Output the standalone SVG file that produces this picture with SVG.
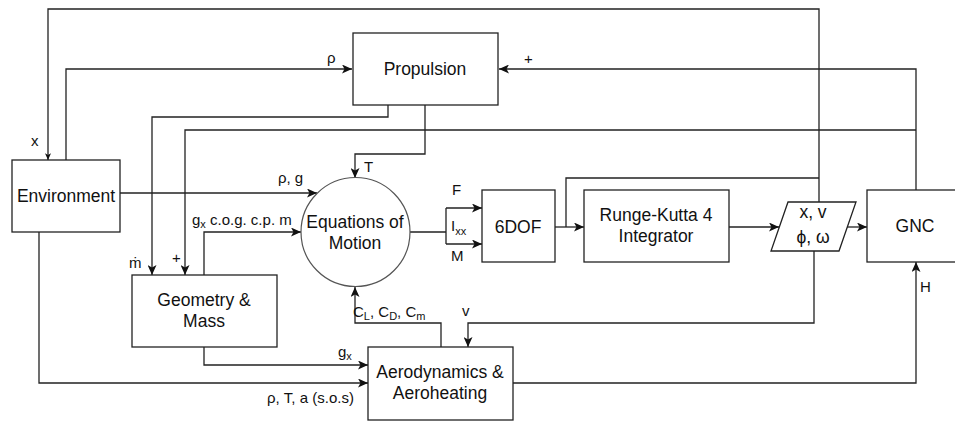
<svg xmlns="http://www.w3.org/2000/svg" width="955" height="421" viewBox="0 0 955 421">
<defs>
<marker id="arr" viewBox="0 0 10 9" refX="10" refY="4.5" markerWidth="10" markerHeight="9" markerUnits="userSpaceOnUse" orient="auto">
<path d="M0,0 L10,4.5 L0,9 L2.5,4.5 z" fill="#111"/>
</marker>
<marker id="arrs" viewBox="0 0 10 9" refX="10" refY="4.5" markerWidth="7" markerHeight="6" markerUnits="userSpaceOnUse" orient="auto">
<path d="M0,0 L10,4.5 L0,9 L2.5,4.5 z" fill="#111"/>
</marker>
</defs>
<style>
.box{fill:#fff;stroke:#222;stroke-width:1.3}
.circ{fill:#fff;stroke:#555;stroke-width:1.2}
.ln{fill:none;stroke:#222;stroke-width:1.3}
.a{marker-end:url(#arr)}
.t{font-family:"Liberation Sans",Arial,Helvetica,sans-serif;font-size:17.5px;fill:#111;text-anchor:middle}
.l{font-family:"Liberation Sans",Arial,Helvetica,sans-serif;font-size:15px;fill:#111}
.sub{font-size:11px}
</style>
<rect width="955" height="421" fill="#fff"/>
<g id="connectors">
<path class="ln" d="M819,202 V9 H48 V160" marker-end="url(#arrs)"/>
<path class="ln" d="M566,227 V178 H819"/>
<path class="ln a" d="M66,160 V69 H352"/>
<path class="ln a" d="M916,190 V69 H499"/>
<path class="ln a" d="M916,130 H185 V275"/>
<path class="ln a" d="M388,105 V117 H152 V275"/>
<path class="ln a" d="M425,105 V154 H355 V178"/>
<path class="ln a" d="M120,193 H317"/>
<path class="ln a" d="M204,275 V232 H301"/>
<path class="ln a" d="M204,347 V365 H368"/>
<path class="ln a" d="M39,232 V383 H368"/>
<path class="ln a" d="M441,347 V323 H355 V287"/>
<path class="ln a" d="M814,251 V323 H468 V347"/>
<path class="ln a" d="M513,383 H916 V262"/>
<path class="ln" d="M410,232 H446 M446,208 V244"/>
<path class="ln a" d="M446,208 H482"/>
<path class="ln a" d="M446,244 H482"/>
<path class="ln a" d="M555,227 H584"/>
<path class="ln a" d="M729,227 H779"/>
<path class="ln a" d="M847,227 H867"/>
<text class="l" x="31" y="146">x</text>
<text class="l" x="327" y="63">ρ</text>
<text class="l" x="524" y="64">+</text>
<text class="l" x="278" y="183">ρ, g</text>
<text class="l" x="364" y="172">T</text>
<text class="l" x="452" y="195">F</text>
<text class="l" x="451" y="231">I<tspan class="sub" dy="4">xx</tspan></text>
<text class="l" x="451" y="261">M</text>
<text class="l" x="129" y="268">ṁ</text>
<text class="l" x="172" y="263">+</text>
<text class="l" x="192" y="225">g<tspan class="sub" dy="3">x</tspan><tspan dy="-3"> c.o.g. c.p. m</tspan></text>
<text class="l" x="353" y="317">C<tspan class="sub" dy="3">L</tspan><tspan dy="-3">, C</tspan><tspan class="sub" dy="3">D</tspan><tspan dy="-3">, C</tspan><tspan class="sub" dy="3">m</tspan></text>
<text class="l" x="462" y="316">v</text>
<text class="l" x="338" y="357">g<tspan class="sub" dy="3">x</tspan></text>
<text class="l" x="267" y="403">ρ, T, a (s.o.s)</text>
<text class="l" x="920" y="292">H</text>
</g>
<g id="environment">
<rect class="box" x="12" y="160" width="108" height="72"/>
<text class="t" x="66" y="202">Environment</text>
</g>
<g id="propulsion">
<rect class="box" x="353" y="33" width="145" height="72"/>
<text class="t" x="425" y="75">Propulsion</text>
</g>
<g id="eom">
<circle class="circ" cx="355.5" cy="232" r="54.5"/>
<text class="t" x="355" y="228">Equations of</text>
<text class="t" x="355" y="249">Motion</text>
</g>
<g id="geometry">
<rect class="box" x="132" y="275" width="145" height="72"/>
<text class="t" x="204" y="306">Geometry &amp;</text>
<text class="t" x="204" y="327">Mass</text>
</g>
<g id="aero">
<rect class="box" x="368" y="347" width="145" height="73"/>
<text class="t" x="440" y="378">Aerodynamics &amp;</text>
<text class="t" x="440" y="399">Aeroheating</text>
</g>
<g id="sixdof">
<rect class="box" x="482" y="190" width="73" height="72"/>
<text class="t" x="518" y="233">6DOF</text>
</g>
<g id="rk4">
<rect class="box" x="584" y="190" width="145" height="72"/>
<text class="t" x="656" y="221">Runge-Kutta 4</text>
<text class="t" x="656" y="242">Integrator</text>
</g>
<g id="state">
<polygon class="box" points="788,202 856,202 839,251 771,251"/>
<text class="t" x="813" y="218">x, v</text>
<text class="t" x="813" y="243">ϕ, ω</text>
</g>
<g id="gnc">
<rect class="box" x="867" y="190" width="95" height="72"/>
<text class="t" x="915" y="232">GNC</text>
</g>
</svg>
